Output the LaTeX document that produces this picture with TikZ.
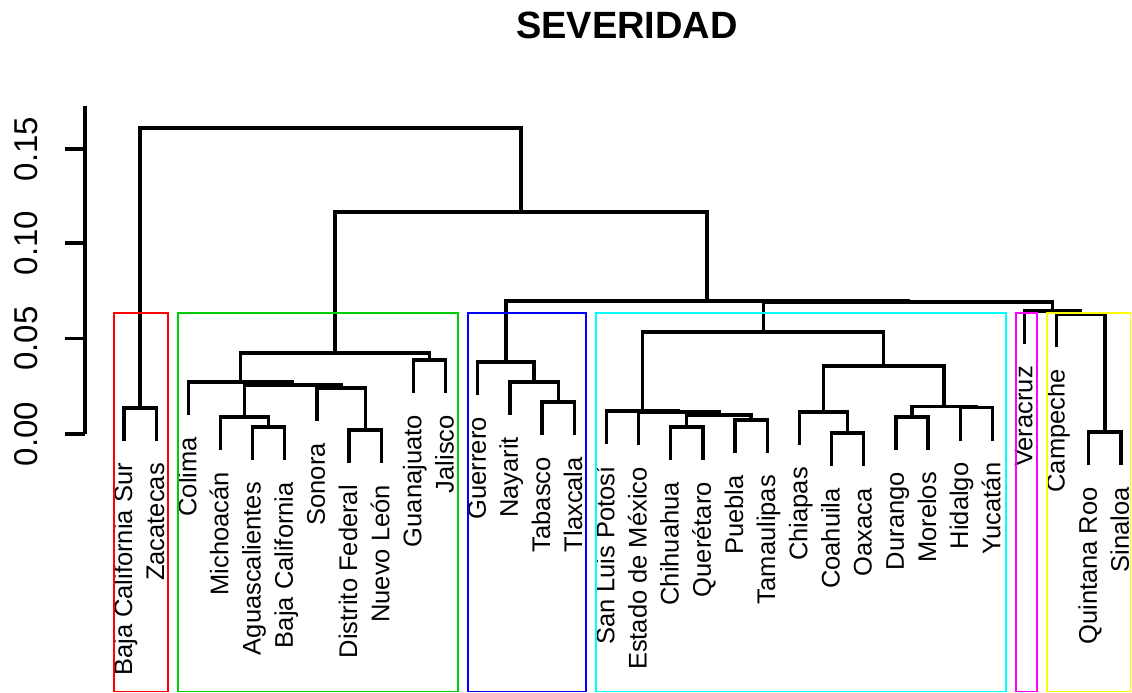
\documentclass[tikz,border=0pt]{standalone}
\usepackage{fontspec}
\setmainfont{Liberation Sans}
\usetikzlibrary{calc}

\definecolor{boxred}{RGB}{255,0,0}
\definecolor{boxgreen}{RGB}{0,205,0}
\definecolor{boxblue}{RGB}{0,0,255}
\definecolor{boxcyan}{RGB}{0,255,255}
\definecolor{boxmagenta}{RGB}{255,0,255}
\definecolor{boxyellow}{RGB}{255,255,0}

\tikzset{
  dendro/.style={line width=3.3pt},
  leaflabel/.style={rotate=90, anchor=base east, inner sep=0pt, font=\fontsize{25.5}{30}\selectfont},
  ticklabel/.style={rotate=90, anchor=south, inner sep=0pt, font=\fontsize{33}{40}\selectfont},
  clusterbox/.style={line width=1.5pt},
}

% merge two branches at a given height (pixels from the top)
\newcommand{\joinpair}[4]{%
  \path let \p1=(#2), \p2=(#3) in coordinate (#1) at ({(\x1+\x2)/2},{-(#4)*1pt});
  \draw[dendro] (#2) |- (#1) -| (#3);
}

\begin{document}
\begin{tikzpicture}[x=1pt,y=-1pt]
\useasboundingbox (0,0) rectangle (1132,693);

\node[font=\bfseries\fontsize{38}{44}\selectfont, anchor=base, inner sep=0pt] (title) at (627,39) {SEVERIDAD};

% axis
\coordinate (axtop) at (85,106);
\coordinate (axbot) at (85,434);
\draw[dendro] (axtop) -- (axbot);
\foreach \v/\yy [count=\k] in {0.00/434, 0.05/338.5, 0.10/243, 0.15/149} {
  \coordinate (tk\k) at (65,\yy);
  \coordinate (tka\k) at (85,\yy);
  \draw[dendro] (tk\k) -- (tka\k);
  \node[ticklabel] (tl\k) at (38,\yy) {\v};
}

% leaves
\foreach \name/\ly [count=\i from 0] in {Baja California Sur/441, Zacatecas/441, Colima/415, Michoacán/450,
    Aguascalientes/460, Baja California/460, Sonora/421, Distrito Federal/463, Nuevo León/463,
    Guanajuato/393, Jalisco/393, Guerrero/395, Nayarit/415, Tabasco/435, Tlaxcala/435,
    San Luis Potosí/444, Estado de México/445, Chihuahua/460, Querétaro/460, Puebla/453,
    Tamaulipas/453, Chiapas/445, Coahuila/466, Oaxaca/466, Durango/450, Morelos/450,
    Hidalgo/440.5, Yucatán/440.5, Veracruz/344, Campeche/347, Quintana Roo/465, Sinaloa/465} {
  \coordinate (l\i) at ({124+32.16*\i},\ly);
  \node[leaflabel] (n\i) at ({132+32.16*\i},{\ly+22}) {\name};
}

% red group
\joinpair{r1}{l0}{l1}{408}
% green group
\joinpair{g1}{l4}{l5}{427}
\joinpair{g2}{l3}{g1}{417}
\joinpair{g3}{l7}{l8}{430}
\joinpair{g4}{l6}{g3}{388}
\joinpair{g5}{g2}{g4}{385}
\joinpair{g6}{l2}{g5}{382}
\joinpair{g7}{l9}{l10}{360}
\joinpair{g8}{g6}{g7}{353}
% blue group
\joinpair{b1}{l13}{l14}{402}
\joinpair{b2}{l12}{b1}{382}
\joinpair{b3}{l11}{b2}{362}
% cyan group
\joinpair{c1}{l17}{l18}{427}
\joinpair{c2}{l19}{l20}{420}
\joinpair{c3}{c1}{c2}{415}
\joinpair{c4}{l16}{c3}{412}
\joinpair{c5}{l15}{c4}{411}
\joinpair{c6}{l22}{l23}{433}
\joinpair{c7}{l21}{c6}{412}
\joinpair{c8}{l24}{l25}{417}
\joinpair{c9}{l26}{l27}{407.5}
\joinpair{c10}{c8}{c9}{406.5}
\joinpair{c11}{c7}{c10}{366}
\joinpair{c12}{c5}{c11}{332}
% magenta and yellow groups
\joinpair{y1}{l30}{l31}{432}
\joinpair{y2}{l29}{y1}{314}
\joinpair{y3}{l28}{y2}{311}
% upper levels
\joinpair{k1}{c12}{y3}{302}
\joinpair{k2}{b3}{k1}{301}
\joinpair{k3}{g8}{k2}{212}
\joinpair{k4}{r1}{k3}{128}

% cluster boxes
\draw[clusterbox, boxred] (114,313) rectangle (168,691.5);
\draw[clusterbox, boxgreen] (178,313) rectangle (458,691.5);
\draw[clusterbox, boxblue] (468,313) rectangle (586,691.5);
\draw[clusterbox, boxcyan] (596,313) rectangle (1006,691.5);
\draw[clusterbox, boxmagenta] (1016,313) rectangle (1037,691.5);
\draw[clusterbox, boxyellow] (1047,313) rectangle (1130.5,691.5);
\end{tikzpicture}
\end{document}
